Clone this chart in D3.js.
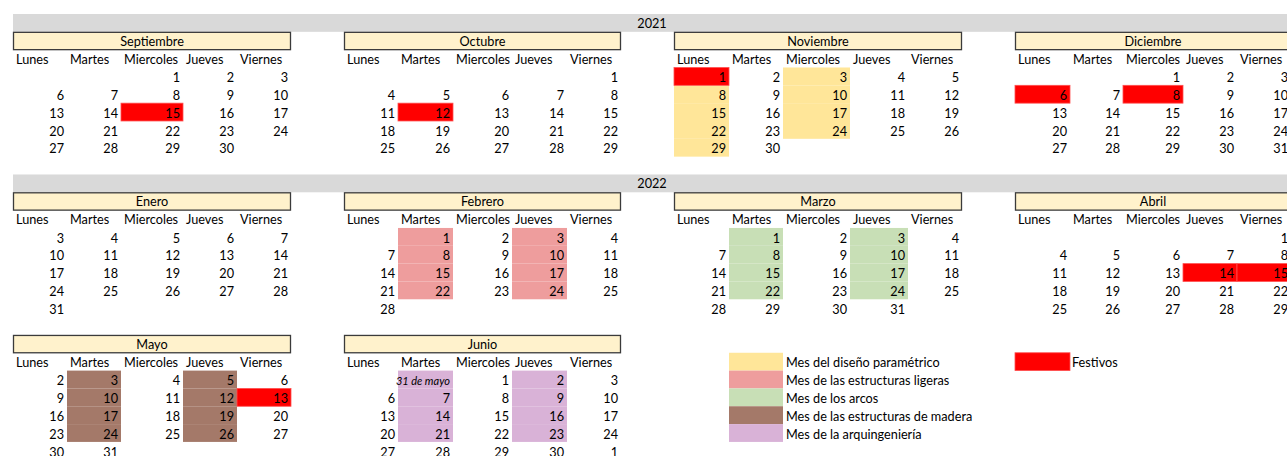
<!DOCTYPE html>
<html>
<head>
<meta charset="utf-8">
<script src="https://cdn.jsdelivr.net/npm/d3@7"></script>
<style>
  html, body { margin: 0; padding: 0; background: #fff; }
  svg { display: block; }
  text { font-family: Lato, "Noto Sans", sans-serif; fill: #000; }
</style>
</head>
<body>
<svg id="chart" width="1287" height="456"></svg>
<script>
// ---------------- DATA ----------------
const years = ["2021", "2022"];
const monthNames = ["Septiembre", "Octubre", "Noviembre", "Diciembre", "Enero", "Febrero", "Marzo", "Abril", "Mayo", "Junio"];
const monthYears = [2021, 2021, 2021, 2021, 2022, 2022, 2022, 2022, 2022, 2022];
const monthNumbers = [9, 10, 11, 12, 1, 2, 3, 4, 5, 6];
const weekdayNames = ["Lunes", "Martes", "Miercoles", "Jueves", "Viernes"];

// extra out-of-month cells shown in a month block [month name, date, label, italic]
const extraCells = [
  ["Junio", "2022-05-31", "31 de mayo", true],
  ["Junio", "2022-07-01", "1", false]
];

const festivos = ["2021-09-15", "2021-10-12", "2021-11-01", "2021-12-06", "2021-12-08",
                  "2022-04-14", "2022-04-15", "2022-05-13"];
const disenoParametrico = ["2021-11-03", "2021-11-08", "2021-11-10", "2021-11-15", "2021-11-17",
                           "2021-11-22", "2021-11-24", "2021-11-29"];
const estructurasLigeras = ["2022-02-01", "2022-02-03", "2022-02-08", "2022-02-10", "2022-02-15",
                            "2022-02-17", "2022-02-22", "2022-02-24"];
const arcos = ["2022-03-01", "2022-03-03", "2022-03-08", "2022-03-10", "2022-03-15",
               "2022-03-17", "2022-03-22", "2022-03-24"];
const estructurasMadera = ["2022-05-03", "2022-05-05", "2022-05-10", "2022-05-12", "2022-05-17",
                           "2022-05-19", "2022-05-24", "2022-05-26"];
const arquingenieria = ["2022-05-31", "2022-06-02", "2022-06-07", "2022-06-09", "2022-06-14",
                        "2022-06-16", "2022-06-21", "2022-06-23"];
// which month block each phase is painted in
const phaseBlocks = ["Noviembre", "Febrero", "Marzo", "Mayo", "Junio"];

const legendLabels = ["Mes del diseño paramétrico", "Mes de las estructuras ligeras", "Mes de los arcos",
                      "Mes de las estructuras de madera", "Mes de la arquingeniería"];
const festivoLabel = "Festivos";

// ---------------- STYLE / LAYOUT ----------------
const phaseColors = ["#FFE699", "#EE9D9D", "#C8DFB6", "#A47969", "#D9B2D7"];
const festivoColor = "#FF0000";
const headerFill = "#FFF2CC";
const yearFill = "#D9D9D9";
const colWidths = [13, 54, 54, 62, 54, 54, 53, 54, 55, 59, 55, 54, 53, 55, 54, 67, 58, 54, 53, 55, 53, 60, 54, 54];
const rowH = 17.83, top0 = 14;
const fontSize = 12.7;

const edges = [0];
colWidths.forEach(w => edges.push(edges[edges.length - 1] + w));
const colX = d3.scaleOrdinal().domain(d3.range(edges.length)).range(edges);
const rowY = d3.scaleLinear().domain([0, 1]).range([top0, top0 + rowH]);

const svg = d3.select("#chart");
const parse = d3.timeParse("%Y-%m-%d");
const fmt = d3.timeFormat("%Y-%m-%d");

// block placement
const blockRowHeader = [1, 10, 18];
const yearRows = [0, 9];
const blocks = monthNames.map((name, i) => {
  const br = Math.floor(i / 4), bc = i % 4;
  const first = new Date(monthYears[i], monthNumbers[i] - 1, 1);
  let fw = first;
  while (fw.getDay() === 0 || fw.getDay() === 6) fw = d3.timeDay.offset(fw, 1);
  return { name, i, headerRow: blockRowHeader[br], col0: 1 + bc * 6, first, base: d3.timeMonday.floor(fw) };
});
const blockByName = new Map(blocks.map(b => [b.name, b]));

function cellOf(block, date) {
  const wd = (date.getDay() + 6) % 7;
  const wk = d3.timeMonday.count(block.base, date);
  return { col: block.col0 + wd, row: block.headerRow + 2 + wk };
}

// ---------- year bars ----------
yearRows.forEach((r, k) => {
  svg.append("rect").attr("x", colX(1)).attr("y", rowY(r))
    .attr("width", 1300 - colX(1)).attr("height", rowH).attr("fill", yearFill);
  svg.append("text").attr("x", (colX(1) + colX(24)) / 2).attr("y", rowY(r + 1) - 4.3)
    .attr("text-anchor", "middle").attr("font-size", fontSize).text(years[k]);
});

// ---------- fills (phases & festivos) ----------
const fills = [];
[disenoParametrico, estructurasLigeras, arcos, estructurasMadera, arquingenieria].forEach((list, p) => {
  const b = blockByName.get(phaseBlocks[p]);
  list.forEach(ds => fills.push({ ...cellOf(b, parse(ds)), color: phaseColors[p], stroke: "none" }));
});
festivos.forEach(ds => {
  const d = parse(ds);
  const b = blocks.find(bl => bl.first.getFullYear() === d.getFullYear() && bl.first.getMonth() === d.getMonth());
  fills.push({ ...cellOf(b, d), color: festivoColor, stroke: "#FF5050" });
});
svg.append("g").selectAll("rect").data(fills).join("rect")
  .attr("x", d => colX(d.col)).attr("y", d => rowY(d.row))
  .attr("width", d => colX(d.col + 1) - colX(d.col)).attr("height", rowH)
  .attr("fill", d => d.color)
  .attr("stroke", d => d.stroke).attr("stroke-width", 0.8);

// ---------- month blocks ----------
blocks.forEach(b => {
  const g = svg.append("g");
  const x0 = colX(b.col0), x1 = colX(b.col0 + 5);
  g.append("rect").attr("x", x0 + 0.5).attr("y", rowY(b.headerRow) + 0.5)
    .attr("width", x1 - x0 - 1).attr("height", rowH - 0.5)
    .attr("fill", headerFill).attr("stroke", "#3b3b3b").attr("stroke-width", 1.3);
  g.append("text").attr("x", (x0 + x1) / 2).attr("y", rowY(b.headerRow + 1) - 4)
    .attr("text-anchor", "middle").attr("font-size", fontSize).text(b.name);
  g.selectAll("text.wd").data(weekdayNames).join("text").attr("class", "wd")
    .attr("x", (d, k) => colX(b.col0 + k) + 3).attr("y", rowY(b.headerRow + 2) - 3.6)
    .attr("font-size", fontSize).text(d => d);
  const days = d3.timeDay.range(b.first, d3.timeMonth.offset(b.first, 1))
    .filter(d => d.getDay() !== 0 && d.getDay() !== 6)
    .map(d => ({ ...cellOf(b, d), label: String(d.getDate()), italic: false }));
  extraCells.filter(e => e[0] === b.name).forEach(e => {
    days.push({ ...cellOf(b, parse(e[1])), label: e[2], italic: e[3] });
  });
  g.selectAll("text.day").data(days).join("text").attr("class", "day")
    .attr("x", d => colX(d.col + 1) - 3).attr("y", d => rowY(d.row + 1) - 3.2)
    .attr("text-anchor", "end")
    .attr("font-size", d => d.italic ? 11 : fontSize)
    .attr("font-style", d => d.italic ? "italic" : "normal")
    .attr("fill", d => d.italic ? "#333" : "#000")
    .text(d => d.label);
});

// ---------- legend ----------
const legRow0 = 19;
const lg = svg.append("g");
lg.selectAll("rect").data(legendLabels).join("rect")
  .attr("x", colX(14)).attr("y", (d, k) => rowY(legRow0 + k))
  .attr("width", colX(15) - colX(14)).attr("height", rowH)
  .attr("fill", (d, k) => phaseColors[k]);
lg.selectAll("text").data(legendLabels).join("text")
  .attr("x", colX(15) + 3).attr("y", (d, k) => rowY(legRow0 + k + 1) - 3.4)
  .attr("font-size", fontSize).text(d => d);
svg.append("rect").attr("x", colX(19)).attr("y", rowY(legRow0))
  .attr("width", colX(20) - colX(19)).attr("height", rowH)
  .attr("fill", festivoColor).attr("stroke", "#FF5050").attr("stroke-width", 0.8);
svg.append("text").attr("x", colX(20) + 2).attr("y", rowY(legRow0 + 1) - 3.4)
  .attr("font-size", fontSize).text(festivoLabel);
</script>
</body>
</html>
